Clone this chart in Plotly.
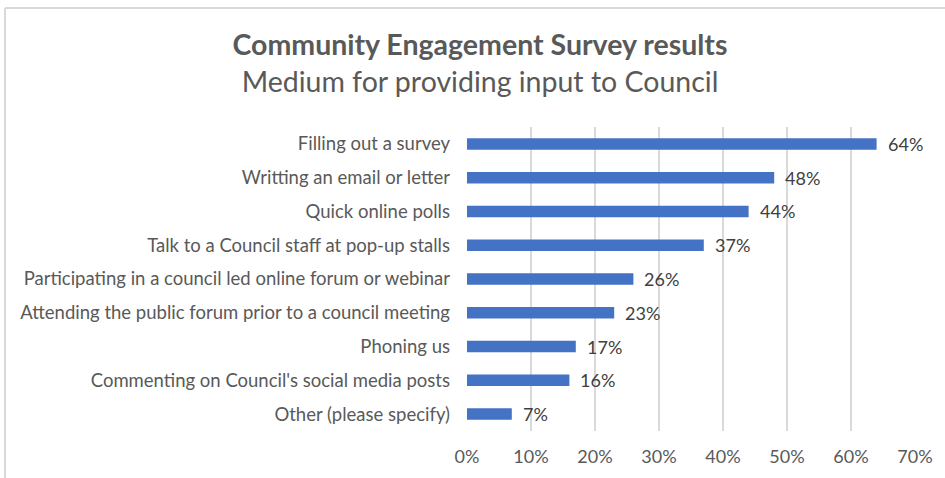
import plotly.graph_objects as go

# Survey answers, listed top to bottom
categories = [
    "Filling out a survey",
    "Writting an email or letter",
    "Quick online polls",
    "Talk to a Council staff at pop-up stalls",
    "Participating in a council led online forum or webinar",
    "Attending the public forum prior to a council meeting",
    "Phoning us",
    "Commenting on Council's social media posts",
    "Other (please specify)",
]
percent = [64, 48, 44, 37, 26, 23, 17, 16, 7]
x_ticks = [0, 10, 20, 30, 40, 50, 60, 70]
x_tick_labels = [f"{t}%" for t in x_ticks]

FONT = "Lato"
BAR = "#4472C4"
TEXT = "#595959"
GRID = "#d9d9d9"

W, H = 945, 478
ml, mr, mt, mb = 467, 30, 127, 47
pw, ph = W - ml - mr, H - mt - mb

fig = go.Figure(
    go.Bar(
        x=percent,
        y=categories,
        orientation="h",
        marker=dict(color=BAR, line=dict(width=0)),
        width=0.34,
        hoverinfo="skip",
    )
)

# value labels just to the right of each bar
for c, v in zip(categories, percent):
    fig.add_annotation(
        x=v, y=c, text=f"{v}%", showarrow=False,
        xanchor="left", yanchor="middle", xshift=9,
        font=dict(family=FONT, size=18, color="#404040"),
    )

# chart frame (top and left edges)
def px_x(p):
    return (p - ml) / pw

def px_y(p):
    return (H - mb - p) / ph

frame = dict(color="#d9d9d9", width=2)
fig.add_shape(type="line", xref="paper", yref="paper",
              x0=px_x(5), x1=px_x(W + 5), y0=px_y(8), y1=px_y(8), line=frame)
fig.add_shape(type="line", xref="paper", yref="paper",
              x0=px_x(5), x1=px_x(5), y0=px_y(8), y1=px_y(H + 5), line=frame)

fig.update_layout(
    width=W, height=H,
    margin=dict(l=ml, r=mr, t=mt, b=mb),
    paper_bgcolor="white", plot_bgcolor="white",
    showlegend=False,
    font=dict(family=FONT, color=TEXT),
    title=dict(
        text="<b>Community Engagement Survey results</b><br>"
             "<span style='font-size:28.5px'>Medium for providing input to Council</span>",
        x=480 / W, xref="container", xanchor="center",
        y=1 - 55 / H, yref="container", yanchor="middle",
        font=dict(family=FONT, size=28.5, color=TEXT),
    ),
    xaxis=dict(
        range=[0, 70], tickvals=x_ticks, ticktext=x_tick_labels,
        showgrid=True, gridcolor=GRID, gridwidth=1.5,
        zeroline=False, showline=False, ticks="",
        tickfont=dict(family=FONT, size=18, color=TEXT),
        ticklabelstandoff=13, fixedrange=True,
    ),
    yaxis=dict(
        categoryorder="array", categoryarray=categories[::-1],
        showgrid=False, zeroline=False, showline=False, ticks="",
        tickfont=dict(family=FONT, size=18.5, color=TEXT),
        ticklabelstandoff=16, fixedrange=True,
    ),
)

fig.write_html("out.html")
